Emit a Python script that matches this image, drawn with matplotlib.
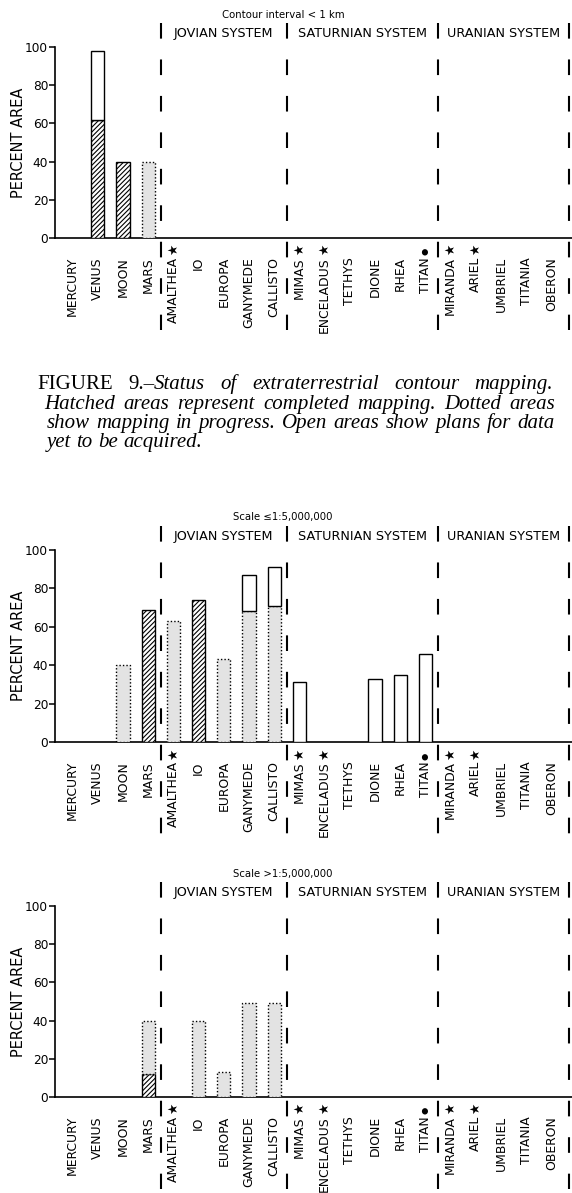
import numpy as np
import matplotlib
matplotlib.use("Agg")
import matplotlib.pyplot as plt

# categories along the x axis (same in all three panels)
bodies = ["MERCURY", "VENUS", "MOON", "MARS",
          "AMALTHEA", "IO", "EUROPA", "GANYMEDE", "CALLISTO",
          "MIMAS", "ENCELADUS", "TETHYS", "DIONE", "RHEA", "TITAN",
          "MIRANDA", "ARIEL", "UMBRIEL", "TITANIA", "OBERON"]
marks = ["", "", "", "", "\u2605", "", "", "", "",
         "\u2605", "\u2605", "", "", "", "\u25cf",
         "\u2605", "\u2605", "", "", ""]
systems = ["JOVIAN SYSTEM", "SATURNIAN SYSTEM", "URANIAN SYSTEM"]
system_start = [4, 9, 15]
system_end = [8, 14, 19]

panel_titles = ["Contour interval < 1 km",
                "Scale \u22641:5,000,000",
                "Scale >1:5,000,000"]

# percent area, per panel: completed (hatched), in progress (dotted), planned (open)
done_1 = [0, 62, 40, 0, 0, 0, 0, 0, 0, 0, 0, 0, 0, 0, 0, 0, 0, 0, 0, 0]
prog_1 = [0, 0, 0, 40, 0, 0, 0, 0, 0, 0, 0, 0, 0, 0, 0, 0, 0, 0, 0, 0]
plan_1 = [0, 36, 0, 0, 0, 0, 0, 0, 0, 0, 0, 0, 0, 0, 0, 0, 0, 0, 0, 0]

done_2 = [0, 0, 0, 69, 0, 74, 0, 0, 0, 0, 0, 0, 0, 0, 0, 0, 0, 0, 0, 0]
prog_2 = [0, 0, 40, 0, 63, 0, 43, 68, 71, 0, 0, 0, 0, 0, 0, 0, 0, 0, 0, 0]
plan_2 = [0, 0, 0, 0, 0, 0, 0, 19, 20, 31, 0, 0, 33, 35, 46, 0, 0, 0, 0, 0]

done_3 = [0, 0, 0, 12, 0, 0, 0, 0, 0, 0, 0, 0, 0, 0, 0, 0, 0, 0, 0, 0]
prog_3 = [0, 0, 0, 28, 0, 40, 13, 49, 49, 0, 0, 0, 0, 0, 0, 0, 0, 0, 0, 0]
plan_3 = [0, 0, 0, 0, 0, 0, 0, 0, 0, 0, 0, 0, 0, 0, 0, 0, 0, 0, 0, 0]

caption_lines = [
    [[("FIGURE", "normal")], [("9.\u2013", "normal"), ("Status", "italic")],
     [("of", "italic")], [("extraterrestrial", "italic")],
     [("contour", "italic")], [("mapping.", "italic")]],
    [[(w, "italic")] for w in "Hatched areas represent completed mapping.  Dotted areas".split(" ")],
    [[(w, "italic")] for w in "show mapping in progress.  Open areas show plans for data".split(" ")],
    [[(w, "italic")] for w in "yet to be acquired.".split(" ")],
]

W, H = 572, 1193
plt.rcParams["hatch.linewidth"] = 0.8
fig = plt.figure(figsize=(W / 100, H / 100), dpi=100)
fig.patch.set_facecolor("white")

x = np.arange(len(bodies))
bar_w = 0.52
ax_left, ax_right = 55, 572
# pixel row of the zero line and of 100 %, per panel
zero_px = [238, 742, 1097]
top_px = [47, 550, 906]


def draw_panel(ax, done, prog, plan, title):
    done = np.array(done, float)
    prog = np.array(prog, float)
    plan = np.array(plan, float)
    m = done > 0
    ax.bar(x[m], done[m], bar_w, color="white", edgecolor="black",
           hatch="///////", linewidth=1.0, zorder=3)
    m = prog > 0
    ax.bar(x[m], prog[m], bar_w, bottom=done[m], color="#e3e3e3",
           edgecolor="black", linewidth=1.0, linestyle=(0, (1, 1.5)), zorder=3)
    m = plan > 0
    ax.bar(x[m], plan[m], bar_w, bottom=done[m] + prog[m], color="white",
           edgecolor="black", linewidth=1.0, zorder=3)

    ax.set_xlim(-0.7, 19.82)
    ax.set_ylim(0, 100)
    for s in ["top", "right"]:
        ax.spines[s].set_visible(False)
    ax.spines["left"].set_linewidth(1.2)
    ax.spines["bottom"].set_linewidth(1.2)
    ax.set_yticks([0, 20, 40, 60, 80, 100])
    ax.tick_params(axis="y", length=4, width=1.1, pad=1, labelsize=8.7)
    ax.set_xticks([])
    ax.set_ylabel("PERCENT AREA", fontsize=10.5)

    trans = ax.get_xaxis_transform()
    off = -19 / 191
    for xi, name, mk in zip(x, bodies, marks):
        ax.text(xi, off, name, rotation=90, ha="center", va="top",
                fontsize=8.9, transform=trans, clip_on=False)
        if mk:
            ax.text(xi, off + 0.008, mk, rotation=90, ha="center", va="bottom",
                    fontsize=9 if mk == "\u2605" else 6, transform=trans,
                    clip_on=False)

    # dashed system dividers, through header and label rows
    edges = [system_start[0] - 0.5] + [e + 0.5 for e in system_end[:-1]] + [system_end[-1] + 0.7]
    for e in edges:
        ax.plot([e, e], [112.5, -48], color="black", lw=1.5,
                linestyle=(0, (7.5, 10)), clip_on=False, zorder=4)
    for name, s, e in zip(systems, system_start, system_end):
        lo = s - 0.5
        hi = e + 0.5 if e != system_end[-1] else e + 0.7
        ax.text((lo + hi) / 2, 107, name, ha="center", va="center",
                fontsize=9.2, clip_on=False)
    ax.text(8.35, 117, title, ha="center", va="center", fontsize=7.3,
            clip_on=False)


panels = [(done_1, prog_1, plan_1), (done_2, prog_2, plan_2), (done_3, prog_3, plan_3)]
for i, (d, p, o) in enumerate(panels):
    ax = fig.add_axes([ax_left / W, 1 - zero_px[i] / H,
                       (ax_right - ax_left) / W, (zero_px[i] - top_px[i]) / H])
    draw_panel(ax, d, p, o, panel_titles[i])
    ax.yaxis.set_label_coords(-(ax_left - 26) / (ax_right - ax_left), 0.5)

# caption, justified like the printed page
renderer = fig.canvas.get_renderer()
cap_size = 15.0
line_x0 = [37, 44, 47, 47]
line_x1 = [553, 555, 555, None]
line_base = [389, 409, 428, 447]


def make(seg, style):
    return fig.text(0, 0, seg, fontsize=cap_size, family="Liberation Serif",
                    style=style, va="baseline", ha="left")


for words, x0, x1, yb in zip(caption_lines, line_x0, line_x1, line_base):
    words = [wd for wd in words if wd[0][0] != ""]
    objs = []
    widths = []
    for wd in words:
        parts = [make(seg, st) for seg, st in wd]
        ws = [t.get_window_extent(renderer).width for t in parts]
        objs.append((parts, ws))
        widths.append(sum(ws))
    space = make(" ", "italic")
    sp = space.get_window_extent(renderer).width
    space.remove()
    if x1 is not None and len(words) > 1:
        gap = (x1 - x0 - sum(widths)) / (len(words) - 1)
    else:
        gap = sp
    cx = x0
    for (parts, ws), wsum in zip(objs, widths):
        px = cx
        for t, w in zip(parts, ws):
            t.set_position((px / W, 1 - yb / H))
            px += w
        cx += wsum + gap

fig.savefig("out.png", dpi=100, facecolor="white")
